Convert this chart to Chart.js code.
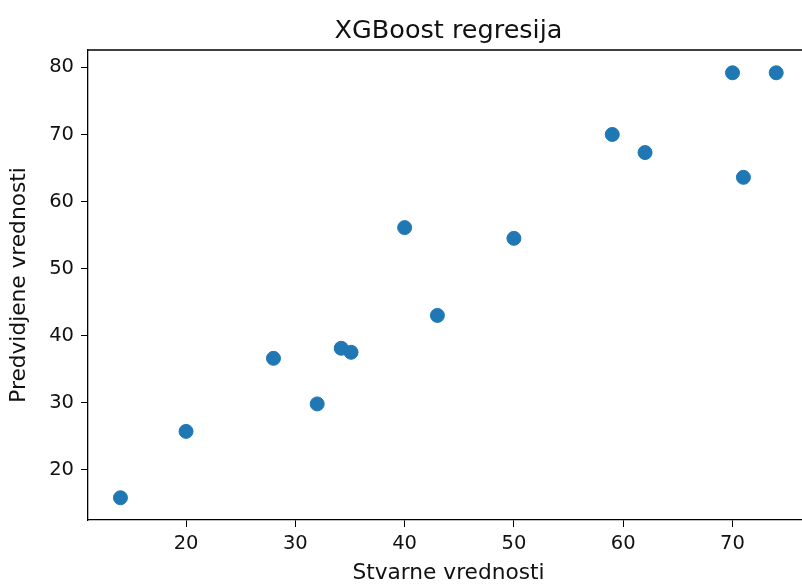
<!DOCTYPE html>
<html>
<head>
<meta charset="utf-8">
<script src="https://cdn.jsdelivr.net/npm/chart.js@4/dist/chart.umd.min.js"></script>
<style>
html,body{margin:0;padding:0;background:#fff;overflow:hidden;width:802px;height:586px;}
#wrap{position:absolute;left:0;top:0;width:830px;height:586px;}
</style>
</head>
<body>
<div id="wrap"><canvas id="c" width="830" height="586"></canvas></div>
<script>
const titleText = "XGBoost regresija";
const xLabel = "Stvarne vrednosti";
const yLabel = "Predvidjene vrednosti";
const actual    = [14, 20, 28, 32, 34.2, 35.1, 40, 43, 50, 59, 62, 70, 71, 74];
const predicted = [15.8, 25.7, 36.6, 29.8, 38.1, 37.5, 56.1, 43.0, 54.5, 70.0, 67.3, 79.2, 63.6, 79.2];
const xTicks = [20, 30, 40, 50, 60, 70];
const yTicks = [20, 30, 40, 50, 60, 70, 80];

const FONT = "'DejaVu Sans', sans-serif";

const framePlugin = {
  id: 'frame',
  afterDraw(chart) {
    const {ctx, chartArea: a} = chart;
    ctx.save();
    ctx.strokeStyle = '#000';
    ctx.lineWidth = 1.3;
    ctx.beginPath();
    ctx.moveTo(a.left, a.top);
    ctx.lineTo(a.right + 2, a.top);
    ctx.stroke();
    ctx.fillStyle = '#111';
    ctx.font = "25.5px " + FONT;
    ctx.textAlign = 'center';
    ctx.textBaseline = 'alphabetic';
    ctx.fillText(titleText, (a.left + a.right) / 2, 38);
    ctx.restore();
  }
};

new Chart(document.getElementById('c'), {
  type: 'scatter',
  data: {
    datasets: [{
      data: actual.map((x, i) => ({x: x, y: predicted[i]})),
      backgroundColor: '#1f77b4',
      borderColor: '#1f77b4',
      borderWidth: 1,
      pointRadius: 7,
      pointHoverRadius: 7
    }]
  },
  options: {
    responsive: false,
    animation: false,
    events: [],
    layout: {padding: {top: 50, right: 21, left: 0, bottom: 0}},
    plugins: {legend: {display: false}, tooltip: {enabled: false}, title: {display: false}},
    scales: {
      x: {
        type: 'linear',
        min: 11.03,
        max: 77.0,
        afterFit(s) { s.height = 66; },
        afterBuildTicks(s) { s.ticks = xTicks.map(v => ({value: v})); },
        border: {display: true, color: '#000', width: 1.3},
        grid: {drawOnChartArea: false, drawTicks: true, tickLength: 7, color: '#000', lineWidth: 1},
        ticks: {color: '#111', padding: 5, font: {family: FONT, size: 19.5}, maxRotation: 0},
        title: {display: true, text: xLabel, color: '#111', font: {family: FONT, size: 21.7}, padding: {top: 2, bottom: 0}}
      },
      y: {
        type: 'linear',
        min: 12.48,
        max: 82.6,
        afterFit(s) { s.width = 88; },
        afterBuildTicks(s) { s.ticks = yTicks.map(v => ({value: v})); },
        border: {display: true, color: '#000', width: 1.3},
        grid: {drawOnChartArea: false, drawTicks: true, tickLength: 7, color: '#000', lineWidth: 1},
        ticks: {color: '#111', padding: 7, font: {family: FONT, size: 19.5}},
        title: {display: true, text: yLabel, color: '#111', font: {family: FONT, size: 21.7}, padding: {top: 6, bottom: 4}}
      }
    }
  },
  plugins: [framePlugin]
});
</script>
</body>
</html>
